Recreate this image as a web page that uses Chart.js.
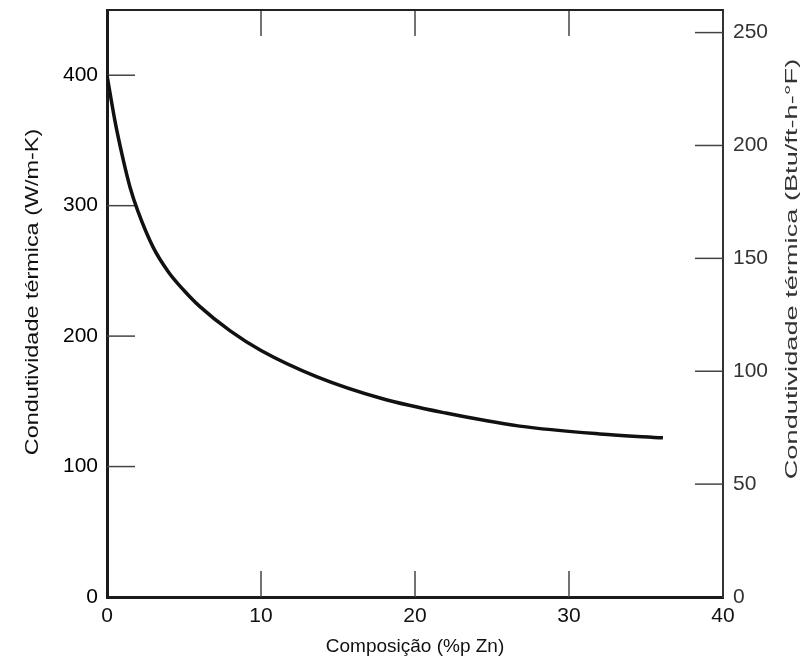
<!DOCTYPE html>
<html>
<head>
<meta charset="utf-8">
<script src="https://cdn.jsdelivr.net/npm/chart.js@4.4.1/dist/chart.umd.min.js"></script>
<style>
  body { margin: 0; background: #fff; }
  #wrap { width: 804px; height: 666px; }
</style>
</head>
<body>
<div id="wrap"><canvas id="myChart" width="804" height="666"></canvas></div>
<script>
// Cu-Zn: thermal conductivity vs composition
const compZn = [0, 0.5, 1, 1.5, 2, 3, 4, 5, 6, 8, 10, 13.6, 17.9, 22, 26.8, 32, 36.1];
const condW = [400, 366, 338, 314, 296, 268, 249, 235, 223, 204, 189, 169, 152, 141, 131, 125, 122];

const xTicks = [0, 10, 20, 30, 40];
const leftTicks = [0, 100, 200, 300, 400];
const rightTicks = [0, 50, 100, 150, 200, 250];

const xTitle = "Composição (%p Zn)";
const leftTitle = "Condutividade térmica (W/m-K)";
const rightTitle = "Condutividade térmica (Btu/ft-h-°F)";

const leftMax = 450;
const wToBtu = 0.5778;

const font = "'Liberation Sans', Arial, sans-serif";

function line(ctx, x1, y1, x2, y2) {
  ctx.beginPath();
  ctx.moveTo(x1, y1);
  ctx.lineTo(x2, y2);
  ctx.stroke();
}

// stretched, rotated text like the scanned figure
function vText(ctx, text, x, y, size, stretch, color) {
  ctx.save();
  ctx.translate(x, y);
  ctx.rotate(-Math.PI / 2);
  ctx.scale(stretch, 1);
  ctx.font = size + "px " + font;
  ctx.fillStyle = color;
  ctx.textAlign = "center";
  ctx.textBaseline = "middle";
  ctx.fillText(text, 0, 0);
  ctx.restore();
}

const frame = {
  id: "frame",
  beforeDatasetsDraw(chart) {
    const ctx = chart.ctx;
    const a = chart.chartArea;
    const s = chart.scales;
    ctx.save();
    ctx.strokeStyle = "#444";
    ctx.lineWidth = 1.5;
    xTicks.slice(1, -1).forEach(v => {
      const px = s.x.getPixelForValue(v);
      line(ctx, px, a.bottom, px, a.bottom - 26);
      line(ctx, px, a.top, px, a.top + 26);
    });
    leftTicks.filter(v => v > 0).forEach(v => {
      const py = s.y.getPixelForValue(v);
      line(ctx, a.left, py, a.left + 28, py);
    });
    rightTicks.filter(v => v > 0).forEach(v => {
      const py = s.y2.getPixelForValue(v);
      line(ctx, a.right, py, a.right - 28, py);
    });
    ctx.strokeStyle = "#222";
    ctx.lineWidth = 2;
    line(ctx, a.left, a.top, a.right, a.top);
    ctx.restore();
  },
  afterDraw(chart) {
    const ctx = chart.ctx;
    const a = chart.chartArea;
    ctx.save();
    ctx.font = "19px " + font;
    ctx.fillStyle = "#111";
    ctx.textAlign = "center";
    ctx.textBaseline = "middle";
    ctx.fillText(xTitle, (a.left + a.right) / 2, 647);
    ctx.restore();
    vText(ctx, leftTitle, 33, 292, 18, 1.3, "#111");
    vText(ctx, rightTitle, 792, 269, 17, 1.6, "#333");
  }
};

function noPad(scale) {
  scale.paddingTop = 0;
  scale.paddingBottom = 0;
}

new Chart("myChart", {
  type: "line",
  data: {
    datasets: [{
      data: compZn.map((x, i) => ({ x: x, y: condW[i] })),
      borderColor: "#111",
      borderWidth: 3.5,
      pointRadius: 0,
      fill: false,
      cubicInterpolationMode: "monotone"
    }]
  },
  options: {
    responsive: false,
    animation: false,
    layout: { padding: { top: 10, left: 0, right: 0, bottom: 0 } },
    plugins: { legend: { display: false }, tooltip: { enabled: false } },
    scales: {
      x: {
        type: "linear",
        min: 0,
        max: 40,
        afterBuildTicks: scale => { scale.ticks = xTicks.map(v => ({ value: v })); },
        afterFit: scale => { scale.height = 69; },
        grid: { display: false, drawTicks: false },
        border: { display: true, color: "#1a1a1a", width: 3 },
        ticks: { padding: 7, color: "#111", font: { family: font, size: 21 } }
      },
      y: {
        type: "linear",
        position: "left",
        min: 0,
        max: leftMax,
        afterBuildTicks: scale => { scale.ticks = leftTicks.map(v => ({ value: v })); },
        afterFit: scale => { scale.width = 107; noPad(scale); },
        grid: { display: false, drawTicks: false },
        border: { display: true, color: "#1a1a1a", width: 3 },
        ticks: { padding: 9, color: "#000", font: { family: font, size: 21 } }
      },
      y2: {
        type: "linear",
        position: "right",
        min: 0,
        max: leftMax * wToBtu,
        afterBuildTicks: scale => { scale.ticks = rightTicks.map(v => ({ value: v })); },
        afterFit: scale => { scale.width = 81; noPad(scale); },
        grid: { display: false, drawTicks: false },
        border: { display: true, color: "#333", width: 2 },
        ticks: { padding: 10, color: "#333", font: { family: font, size: 21 } }
      }
    }
  },
  plugins: [frame]
});
</script>
</body>
</html>
